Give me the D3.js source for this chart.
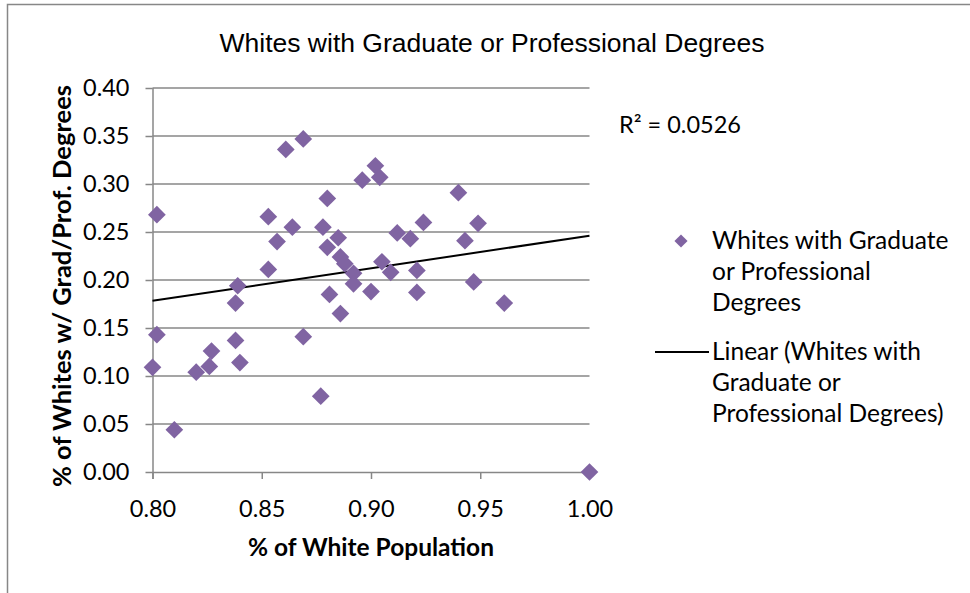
<!DOCTYPE html>
<html>
<head>
<meta charset="utf-8">
<script src="https://cdn.jsdelivr.net/npm/d3@7"></script>
<style>
  body { margin: 0; background: #fff; }
  svg { display: block; }
</style>
</head>
<body>
<section></section>
<script>
// % of white population for each point
const whiteShare = [
  0.802, 0.861, 0.869, 0.853, 0.864, 0.857, 0.853, 0.839, 0.902, 0.896,
  0.904, 0.880, 0.878, 0.885, 0.880, 0.924, 0.912, 0.918, 0.886, 0.888,
  0.892, 0.905, 0.909, 0.921, 0.892, 0.940, 0.949, 0.943, 0.947, 0.961,
  0.900, 0.921, 1.000, 0.881, 0.886, 0.869, 0.877, 0.838, 0.802, 0.800,
  0.827, 0.826, 0.820, 0.838, 0.840, 0.810
];
// % of whites with grad / prof degrees, same order
const gradShare = [
  0.268, 0.336, 0.347, 0.266, 0.255, 0.240, 0.211, 0.194, 0.319, 0.304,
  0.307, 0.285, 0.255, 0.244, 0.234, 0.260, 0.249, 0.243, 0.224, 0.217,
  0.207, 0.219, 0.208, 0.210, 0.196, 0.291, 0.259, 0.241, 0.198, 0.176,
  0.188, 0.187, 0.000, 0.185, 0.165, 0.141, 0.079, 0.176, 0.143, 0.109,
  0.126, 0.110, 0.104, 0.137, 0.114, 0.044
];
const xTicks = [0.80, 0.85, 0.90, 0.95, 1.00];
const yTicks = [0, 0.05, 0.10, 0.15, 0.20, 0.25, 0.30, 0.35, 0.40];
const seriesName = ["Whites with Graduate", "or Professional", "Degrees"];
const trendName = ["Linear (Whites with", "Graduate or", "Professional Degrees)"];
const rSquaredLabel = "R² = 0.0526";

const width = 970;
const height = 593;
const purple = "#8064a2";
const grid = "#878787";
const font = "Lato, 'Open Sans', sans-serif";

const points = whiteShare.map((x, i) => ({ x: x, y: gradShare[i] }));

const svg = d3.select("section")
  .append("svg")
  .attr("width", width)
  .attr("height", height);

// chart area border (only left and top show in the window)
svg.append("rect")
  .attr("x", 7.5).attr("y", 4.5)
  .attr("width", 1200).attr("height", 1200)
  .attr("fill", "none")
  .attr("stroke", grid)
  .attr("stroke-width", 1.5);

const x = d3.scaleLinear().domain([0.8, 1.0]).range([152.5, 589.5]);
const y = d3.scaleLinear().domain([0, 0.4]).range([472, 88]);

// horizontal gridlines
svg.append("g")
  .selectAll("line")
  .data(yTicks.slice(1))
  .enter()
  .append("line")
  .attr("x1", x(0.8)).attr("x2", x(1.0))
  .attr("y1", d => y(d)).attr("y2", d => y(d))
  .attr("stroke", grid)
  .attr("stroke-width", 1.5);

// y axis
const yAxis = svg.append("g")
  .attr("transform", `translate(${x(0.8)},0)`)
  .call(d3.axisLeft(y).tickValues(yTicks).tickFormat(d3.format(".2f")).tickSize(7).tickPadding(16));

// x axis
const xAxis = svg.append("g")
  .attr("transform", `translate(0,${y(0)})`)
  .call(d3.axisBottom(x).tickValues(xTicks).tickFormat(d3.format(".2f")).tickSize(7).tickPadding(21));

[yAxis, xAxis].forEach(function(ax) {
  ax.select(".domain").attr("stroke", grid).attr("stroke-width", 1.5);
  ax.selectAll(".tick line").attr("stroke", grid).attr("stroke-width", 1.5);
  ax.selectAll(".tick text")
    .attr("fill", "#000")
    .style("font-family", font)
    .style("font-size", "23.5px");
});
xAxis.select(".domain").attr("d", `M${x(0.8)},0.5H${x(1.0)}`);
yAxis.select(".domain").attr("d", `M0.5,${y(0.4)}V${y(0) + 7}`);

// linear trendline (least squares)
const mx = d3.mean(points, d => d.x);
const my = d3.mean(points, d => d.y);
const slope = d3.sum(points, d => (d.x - mx) * (d.y - my)) / d3.sum(points, d => (d.x - mx) * (d.x - mx));
const intercept = my - slope * mx;
const xExtent = d3.extent(points, d => d.x);

svg.append("line")
  .attr("x1", x(xExtent[0])).attr("y1", y(intercept + slope * xExtent[0]))
  .attr("x2", x(xExtent[1])).attr("y2", y(intercept + slope * xExtent[1]))
  .attr("stroke", "#000")
  .attr("stroke-width", 2);

// diamond markers
const diamond = d3.symbol().type(d3.symbolDiamond2).size(200);
svg.append("g")
  .selectAll("path")
  .data(points)
  .enter()
  .append("path")
  .attr("d", diamond)
  .attr("transform", d => `translate(${x(d.x)},${y(d.y)})`)
  .attr("fill", purple);

// title
svg.append("text")
  .attr("x", 492).attr("y", 52)
  .attr("text-anchor", "middle")
  .style("font-family", "'Liberation Sans', Arial, sans-serif")
  .style("font-size", "26.5px")
  .text("Whites with Graduate or Professional Degrees");

// axis titles
svg.append("text")
  .attr("x", x(0.9)).attr("y", 556)
  .attr("text-anchor", "middle")
  .style("font-family", font)
  .style("font-size", "24.5px")
  .style("font-weight", "bold")
  .text("% of White Population");

svg.append("text")
  .attr("transform", `translate(71,${y(0.2) + 6}) rotate(-90)`)
  .attr("text-anchor", "middle")
  .style("font-family", font)
  .style("font-size", "25.5px")
  .style("font-weight", "bold")
  .text("% of Whites w/ Grad/Prof. Degrees");

// R squared label
svg.append("text")
  .attr("x", 619).attr("y", 133)
  .style("font-family", font)
  .style("font-size", "23.5px")
  .text(rSquaredLabel);

// legend
svg.append("path")
  .attr("d", d3.symbol().type(d3.symbolDiamond2).size(110))
  .attr("transform", "translate(681,241)")
  .attr("fill", purple);

svg.append("g")
  .selectAll("text")
  .data(seriesName)
  .enter()
  .append("text")
  .attr("x", 712)
  .attr("y", (d, i) => 249 + i * 31)
  .style("font-family", font)
  .style("font-size", "24.5px")
  .text(d => d);

svg.append("line")
  .attr("x1", 655).attr("x2", 709)
  .attr("y1", 352).attr("y2", 352)
  .attr("stroke", "#000")
  .attr("stroke-width", 2);

svg.append("g")
  .selectAll("text")
  .data(trendName)
  .enter()
  .append("text")
  .attr("x", 712)
  .attr("y", (d, i) => 360 + i * 31)
  .style("font-family", font)
  .style("font-size", "24.5px")
  .text(d => d);
</script>
</body>
</html>
